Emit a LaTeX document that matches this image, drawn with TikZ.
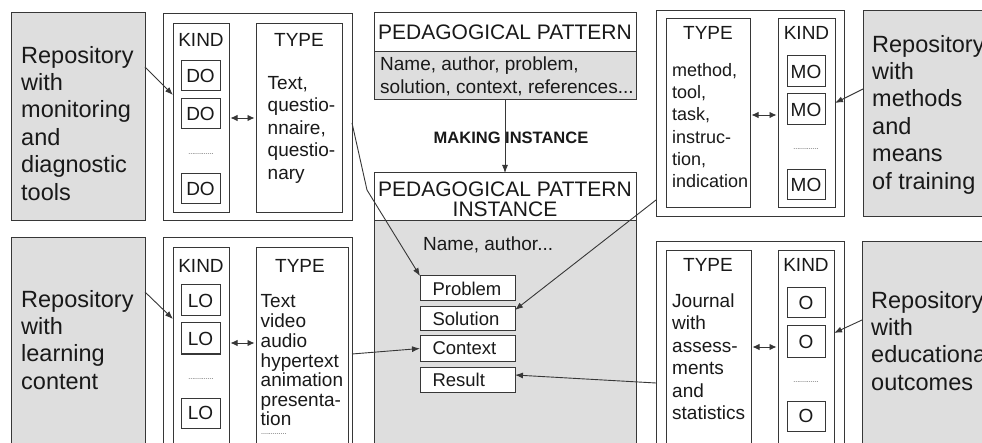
\documentclass[tikz,border=0pt]{standalone}
\usepackage{fontspec}
\setmainfont{Liberation Sans}
\usetikzlibrary{arrows.meta,calc}
\definecolor{fillg}{RGB}{222,222,222}
\definecolor{linec}{RGB}{55,55,55}
\definecolor{txtc}{RGB}{25,25,25}
\begin{document}
\begin{tikzpicture}[x=1pt,y=-1pt,
 box/.style={draw=linec,line width=1pt,anchor=north west,inner sep=0pt,outer sep=0pt},
 sz/.style 2 args={minimum width=#1,minimum height=#2},
 greybox/.style={box,fill=fillg},
 wbox/.style={box,fill=white},
 lbl/.style={font=\fontsize{19}{22.5}\selectfont,text=txtc,inner sep=0pt,anchor=base},
 kindbox/.style={box,fill=white,font=\fontsize{19}{22.5}\selectfont,text=txtc},
 fieldbox/.style={box,fill=white,font=\fontsize{18.5}{22}\selectfont,text=txtc,inner xsep=12.5pt,text width=70pt,align=left},
 txtL/.style={font=\fontsize{19}{22.5}\selectfont,text=txtc,inner sep=0pt,anchor=north west,align=left},
 repo/.style={font=\fontsize{23.5}{27.4}\selectfont,text=txtc,inner sep=0pt,anchor=north west,align=left},
 dotrow/.style={font=\fontsize{7}{7}\selectfont,text=linec,inner sep=0pt},
 arr/.style={draw=linec,line width=0.9pt,-{Latex[length=8pt,width=6pt]}},
 dbl/.style={draw=linec,line width=0.9pt,{Latex[length=7pt,width=6.5pt]}-{Latex[length=7pt,width=6.5pt]}},
]
\useasboundingbox (0,0) rectangle (982,443);
\clip (0,0) rectangle (982,443);
\fill[white] (0,0) rectangle (982,443);

% ---------- top left
\node[greybox,sz={134}{208}] (gL1) at (11,13) {};
\node[repo] (gL1t) at (21,43.8) {\strut Repository\\with\\monitoring\\and\\diagnostic\\tools};
\node[wbox,sz={189}{207}] (oL1) at (163,14) {};
\node[wbox,sz={56}{189}] (kL1) at (173,24) {};
\node[wbox,sz={86}{189}] (tL1) at (256,24) {};
\node[lbl] (kL1l) at (201,47) {KIND};
\node[lbl] (tL1l) at (299,47) {TYPE};
\node[kindbox,sz={39}{30}] (dL1) at (181,61) {DO};
\node[kindbox,sz={39}{30}] (dL2) at (181,99) {DO};
\node[kindbox,sz={39}{30}] (dL3) at (181,174) {DO};
\node[dotrow] (dLd) at (201,154) {.............};
\node[txtL] (tL1t) at (267.5,73.25) {\strut Text,\\questio-\\nnaire,\\questio-\\nary};

% ---------- top right
\node[wbox,sz={188}{206}] (oR1) at (656,11) {};
\node[wbox,sz={84}{189}] (tR1) at (666,19) {};
\node[wbox,sz={57}{189}] (kR1) at (778,19) {};
\node[lbl] (tR1l) at (708,40) {TYPE};
\node[lbl] (kR1l) at (806.5,40) {KIND};
\node[kindbox,sz={38}{31}] (mR1) at (787,56) {MO};
\node[kindbox,sz={38}{31}] (mR2) at (787,94) {MO};
\node[kindbox,sz={38}{30}] (mR3) at (787,170) {MO};
\node[dotrow] (mRd) at (806,149) {.............};
\node[txtL,font=\fontsize{18}{22.3}\selectfont] (tR1t) at (672,60.4) {\strut method,\\tool,\\task,\\instruc-\\tion,\\indication};
\node[greybox,sz={140}{206}] (gR1) at (863,11) {};
\node[repo] (gR1t) at (872,32.8) {\strut Repository\\with\\methods\\and\\means\\of training};

% ---------- bottom left
\node[greybox,sz={134}{230}] (gL2) at (11,238) {};
\node[repo] (gL2t) at (21,287.8) {\strut Repository\\with\\learning\\content};
\node[wbox,sz={189}{230}] (oL2) at (163,238) {};
\node[wbox,sz={56}{220}] (kL2) at (173,248) {};
\node[wbox,sz={92}{220}] (tL2) at (256,248) {};
\node[lbl] (kL2l) at (201,273) {KIND};
\node[lbl] (tL2l) at (300,273) {TYPE};
\node[kindbox,sz={39}{31}] (lL1) at (181,285) {LO};
\node[kindbox,sz={39}{31}] (lL2) at (181,323) {LO};
\node[kindbox,sz={39}{30}] (lL3) at (181,398) {LO};
\node[dotrow] (lLd) at (201,379) {.............};
\node[txtL,font=\fontsize{19}{19.6}\selectfont] (tL2t) at (260.5,293.3) {\strut Text\\video\\audio\\hypertext\\animation\\presenta-\\tion};
\node[dotrow,anchor=west] (tL2d) at (261,434) {.............};

% ---------- bottom right
\node[wbox,sz={188}{230}] (oR2) at (656,242) {};
\node[wbox,sz={85}{220}] (tR2) at (666,251) {};
\node[wbox,sz={56}{220}] (kR2) at (778,251) {};
\node[lbl] (tR2l) at (708,272) {TYPE};
\node[lbl] (kR2l) at (806,272) {KIND};
\node[kindbox,sz={38}{30}] (oO1) at (787,288) {O};
\node[kindbox,sz={38}{31}] (oO2) at (787,326) {O};
\node[kindbox,sz={38}{30}] (oO3) at (787,401) {O};
\node[dotrow] (oOd) at (806,382) {.............};
\node[txtL] (tR2t) at (672,291.25) {\strut Journal\\with\\assess-\\ments\\and\\statistics};
\node[greybox,sz={140}{230}] (gR2) at (862,242) {};
\node[repo] (gR2t) at (871,288.8) {\strut Repository\\with\\educational\\outcomes};

% ---------- middle
\node[wbox,sz={262}{39}] (patT) at (374,13) {};
\node[greybox,sz={262}{48}] (patB) at (374,52) {};
\node[font=\fontsize{21}{21}\selectfont,text=txtc,inner sep=0pt,anchor=base] (patTt) at (505,39.5) {PEDAGOGICAL PATTERN};
\node[txtL,font=\fontsize{19}{23}\selectfont] (patBt) at (380,53.9) {\strut Name, author, problem,\\solution, context, references...};
\node[wbox,sz={262}{48}] (instH) at (374,173) {};
\node[greybox,sz={262}{240}] (instB) at (374,221) {};
\node[font=\fontsize{21}{19.3}\selectfont,text=txtc,inner sep=0pt,anchor=north,align=center] (instHt) at (505,182) {PEDAGOGICAL PATTERN\\INSTANCE};
\node[lbl,anchor=base west] (instBt) at (423,251) {Name, author...};
\node[fieldbox,sz={95}{25}] (prob) at (420,276) {Problem};
\node[fieldbox,sz={95}{24}] (sol) at (420,307) {Solution};
\node[fieldbox,sz={95}{25}] (ctx) at (420,336) {Context};
\node[fieldbox,sz={95}{25}] (res) at (420,367) {Result};

\draw[arr] (patB.south) -- (instH.north);
\node[font=\bfseries\fontsize{16.5}{16.5}\selectfont,text=txtc,inner sep=0pt,anchor=base] (mk) at (511,143.3) {MAKING INSTANCE};

% ---------- connectors
\draw[arr] ($(gL1.north east)+(0,54)$) -- ($(kL1.north west)+(0,71)$);
\draw[arr] ($(gL2.north east)+(0,54)$) -- ($(kL2.north west)+(0,71)$);
\draw[arr] ($(gR1.north west)+(0,78)$) -- ($(kR1.north east)+(0,84)$);
\draw[arr] ($(gR2.north west)+(0,78)$) -- ($(kR2.north east)+(0,82)$);

\draw[dbl] ($(kL1.north east)+(1.5,94)$) -- ($(tL1.north west)+(-1.5,94)$);
\draw[dbl] ($(kL2.north east)+(1.5,95)$) -- ($(tL2.north west)+(-1.5,95)$);
\draw[dbl] ($(tR1.north east)+(1.5,96)$) -- ($(kR1.north west)+(-1.5,96)$);
\draw[dbl] ($(tR2.north east)+(1.5,96)$) -- ($(kR2.north west)+(-1.5,96)$);

\coordinate (bend) at (367,190);
\draw[arr] ($(oL1.north east)+(0,109)$) -- (bend) -- (prob.north west);
\draw[arr] ($(oR1.north west)+(0,189)$) -- ($(sol.north east)+(0,3)$);
\draw[arr] ($(oL2.north east)+(0,116)$) -- (ctx.west);
\draw[arr] ($(oR2.north west)+(0,141)$) -- ($(res.north east)+(0,8)$);
\end{tikzpicture}
\end{document}
